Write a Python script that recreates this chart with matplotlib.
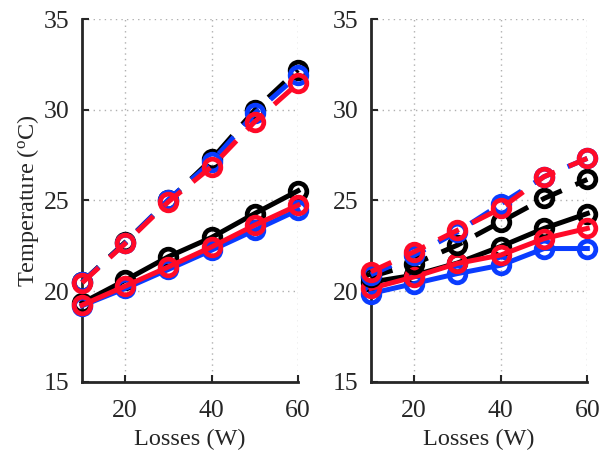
import matplotlib
matplotlib.use("Agg")
import matplotlib.pyplot as plt

plt.rcParams['font.family'] = ['Liberation Serif', 'DejaVu Serif']
plt.rcParams['mathtext.fontset'] = 'custom'
plt.rcParams['mathtext.rm'] = 'Liberation Serif'
plt.rcParams['mathtext.it'] = 'Liberation Serif'

losses = [10, 20, 30, 40, 50, 60]

# Left panel
left_dash_black = [20.5, 22.7, 25.0, 27.26, 29.98, 32.2]
left_dash_blue = [20.5, 22.65, 25.05, 27.13, 29.8, 31.9]
left_dash_red = [20.46, 22.63, 24.93, 26.86, 29.34, 31.45]
left_solid_black = [19.35, 20.6, 21.9, 22.96, 24.28, 25.53]
left_solid_blue = [19.2, 20.15, 21.2, 22.26, 23.36, 24.47]
left_solid_red = [19.23, 20.28, 21.34, 22.44, 23.64, 24.74]

# Right panel
right_dash_black = [20.8, 21.5, 22.54, 23.82, 25.11, 26.16]
right_dash_blue = [20.9, 21.98, 23.27, 24.8, 26.31, 27.32]
right_dash_red = [21.07, 22.17, 23.36, 24.56, 26.31, 27.32]
right_solid_black = [20.5, 20.88, 21.55, 22.46, 23.46, 24.28]
right_solid_blue = [19.87, 20.42, 20.97, 21.43, 22.35, 22.35]
right_solid_red = [20.15, 20.79, 21.53, 21.99, 22.9, 23.46]

colors = {'black': '#000000', 'blue': '#0a3cff', 'red': '#ff0a28'}

fig = plt.figure(figsize=(6.08, 4.53), dpi=100)
ax1 = fig.add_axes([0.135, 0.157, 0.355, 0.801])
ax2 = fig.add_axes([0.610, 0.157, 0.356, 0.801])

panels = [
    (ax1, [left_dash_black, left_dash_blue, left_dash_red],
     [left_solid_black, left_solid_blue, left_solid_red]),
    (ax2, [right_dash_black, right_dash_blue, right_dash_red],
     [right_solid_black, right_solid_blue, right_solid_red]),
]

for ax, dashed, solid in panels:
    for vals, c in zip(solid, ['black', 'blue', 'red']):
        ax.plot(losses, vals, '-', color=colors[c], lw=3.6, marker='o',
                ms=12, mfc='none', mew=3.4, clip_on=False, zorder=3)
    for vals, c in zip(dashed, ['black', 'blue', 'red']):
        ax.plot(losses, vals, color=colors[c], lw=3.6, marker='o',
                ms=12, mfc='none', mew=3.4, clip_on=False, zorder=3,
                linestyle=(0, (4.5, 3)))
    ax.set_xlim(10, 60)
    ax.set_ylim(15, 35)
    ax.set_xticks([20, 40, 60])
    ax.set_yticks([15, 20, 25, 30, 35])
    ax.grid(True, linestyle=(0, (1, 3)), color='#b0b0b0', lw=1)
    ax.spines['top'].set_visible(False)
    ax.spines['right'].set_visible(False)
    for s in ['left', 'bottom']:
        ax.spines[s].set_color('#262626')
        ax.spines[s].set_linewidth(2)
    ax.tick_params(direction='in', length=5, width=1.5, colors='#262626',
                   labelsize=18.5, labelcolor='#262626')
    ax.tick_params(axis='x', pad=13)
    ax.tick_params(axis='y', pad=9)
    ax.set_xlabel('Losses (W)', fontsize=17.5, color='#262626', labelpad=5)

ax1.set_ylabel('Temperature ($^{\\mathrm{o}}$C)', fontsize=17.5, color='#262626',
               labelpad=2)

fig.savefig('out.png', dpi=100)
